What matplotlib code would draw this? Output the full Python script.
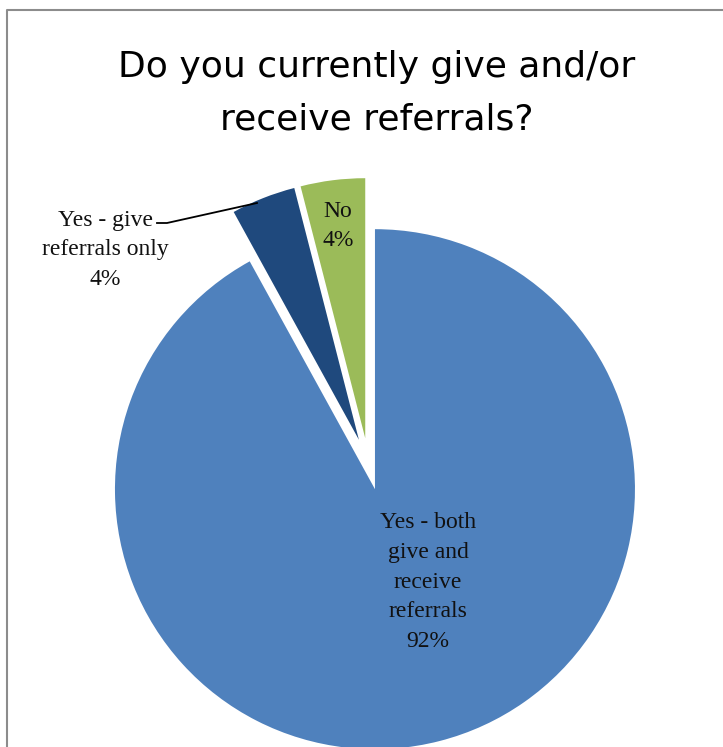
import matplotlib.pyplot as plt
from matplotlib.lines import Line2D

# survey answers
categories = ["Yes - both\ngive and\nreceive\nreferrals", "Yes - give\nreferrals only", "No"]
shares = [92, 4, 4]
colors = ["#4F81BD", "#1F497D", "#9BBB59"]
title_lines = ["Do you currently give and/or", "receive referrals?"]

W, H = 723, 747
R = 260
fig = plt.figure(figsize=(W / 100, H / 100), dpi=100)
ax = fig.add_axes([0, 0, 1, 1])

# pie laid out in pixel units (y measured from the bottom); explode is in data units
wedges, _ = ax.pie(shares, colors=colors, startangle=90, counterclock=False,
                   explode=[0.1 * R] * 3, radius=R, center=(368.5, H - 464),
                   wedgeprops=dict(linewidth=0))
ax.set_xlim(0, W)
ax.set_ylim(0, H)
ax.set_aspect("auto")
ax.axis("off")

# chart frame (runs off the right and bottom edges)
ax.add_line(Line2D([7, 7, W + 5], [-5, H - 10, H - 10], color="#8c8c8c", lw=1.5,
                   clip_on=False))

# title
title_font = dict(family="DejaVu Sans", fontsize=26, color="black", ha="center",
                  va="baseline")
ax.text(377, H - 77, title_lines[0], **title_font)
ax.text(377, H - 130, title_lines[1], **title_font)

# data labels
lab = dict(family="Liberation Serif", fontsize=17, color="#111111", ha="center",
           va="center", linespacing=1.55)
ax.text(428, H - 582, f"{categories[0]}\n{shares[0]}%", **lab)
ax.text(105, H - 250, f"{categories[1]}\n{shares[1]}%", **lab)
ax.text(338, H - 226, f"{categories[2]}\n{shares[2]}%", **lab)

# leader line for the small slice label
ax.plot([157, 167, 257], [H - 223, H - 223, H - 203], color="black", lw=1.3)

fig.savefig("out.png", dpi=100, facecolor="white")
